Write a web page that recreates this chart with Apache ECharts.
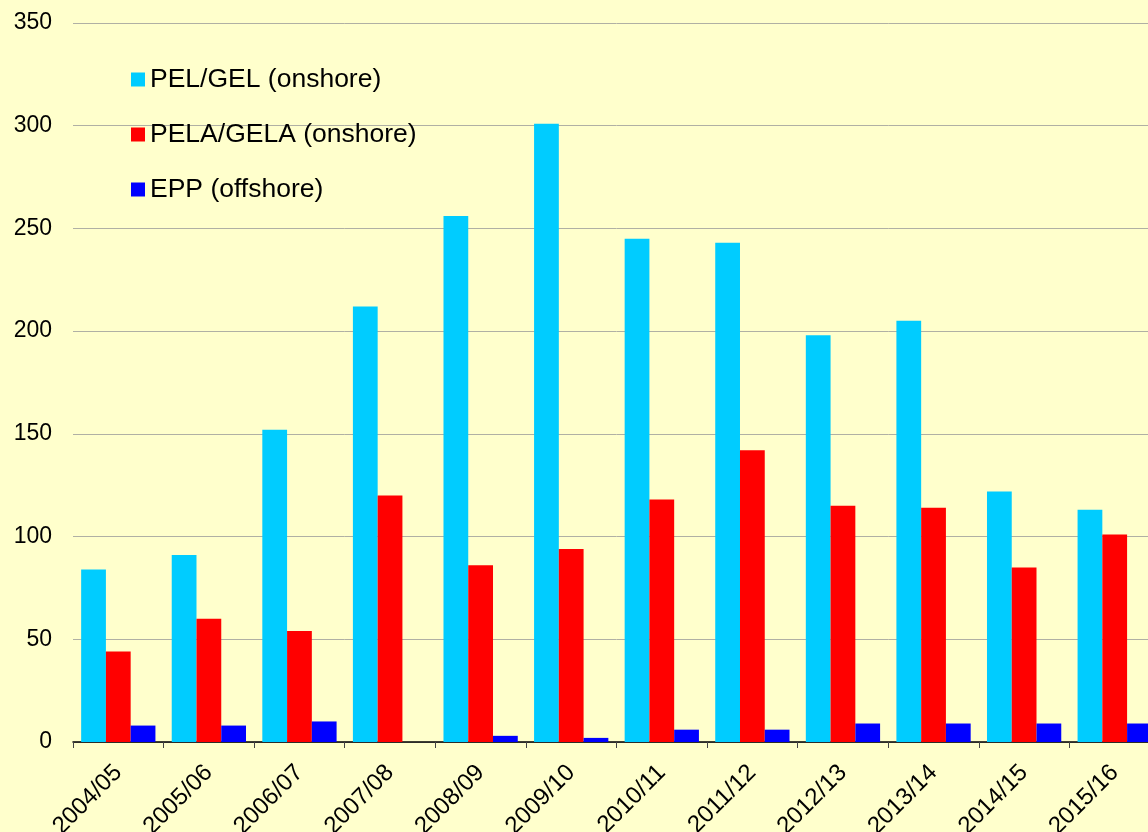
<!DOCTYPE html>
<html>
<head>
<meta charset="utf-8">
<script src="https://cdn.jsdelivr.net/npm/echarts@6/dist/echarts.min.js"></script>
<style>
html,body{margin:0;padding:0;background:#FFFFCC;overflow:hidden;width:1148px;height:832px;}
#wrap{position:relative;width:1148px;height:832px;overflow:hidden;}
#chart{position:absolute;left:0;top:0;width:1160px;height:832px;}
</style>
</head>
<body>
<div id="wrap"><div id="chart"></div></div>
<script>
var categories = ['2004/05','2005/06','2006/07','2007/08','2008/09','2009/10','2010/11','2011/12','2012/13','2013/14','2014/15','2015/16'];
var pelGel = [84, 91, 152, 212, 256, 301, 245, 243, 198, 205, 122, 113];
var pelaGela = [44, 60, 54, 120, 86, 94, 118, 142, 115, 114, 85, 101];
var epp = [8, 8, 10, 0, 3, 2, 6, 6, 9, 9, 9, 9];
var seriesNames = ['PEL/GEL (onshore)', 'PELA/GELA (onshore)', 'EPP (offshore)'];
var yTicks = {min: 0, max: 350, interval: 50};

var font = '"Liberation Sans", Arial, sans-serif';
var chart = echarts.init(document.getElementById('chart'));
chart.setOption({
  backgroundColor: '#FFFFCC',
  animation: false,
  grid: {left: 73, right: 0, top: 23, bottom: 90, containLabel: false, outerBoundsMode: 'none'},
  legend: {
    orient: 'vertical',
    left: 131,
    top: 66,
    padding: 0,
    itemWidth: 14,
    itemHeight: 14,
    itemGap: 28,
    icon: 'rect',
    textStyle: {fontFamily: font, fontSize: 26.5, lineHeight: 26, color: '#000'},
    data: seriesNames
  },
  xAxis: {
    type: 'category',
    data: categories,
    axisLine: {lineStyle: {color: '#000', width: 1.5}},
    axisTick: {show: true, length: 6, lineStyle: {color: '#444'}},
    axisLabel: {rotate: 45, fontFamily: font, fontSize: 24, color: '#000', margin: 27, interval: 0}
  },
  yAxis: {
    type: 'value',
    min: yTicks.min, max: yTicks.max, interval: yTicks.interval,
    axisLine: {show: false},
    axisTick: {show: false},
    splitLine: {lineStyle: {color: '#b0b0a4', width: 1}},
    axisLabel: {fontFamily: font, fontSize: 23, color: '#000', margin: 21}
  },
  series: [
    {name: seriesNames[0], type: 'bar', data: pelGel, barGap: '0%', barCategoryGap: '18%', itemStyle: {color: '#00CCFF'}},
    {name: seriesNames[1], type: 'bar', data: pelaGela, barGap: '0%', barCategoryGap: '18%', itemStyle: {color: '#FF0000'}},
    {name: seriesNames[2], type: 'bar', data: epp, barGap: '0%', barCategoryGap: '18%', itemStyle: {color: '#0000FF'}}
  ]
});
</script>
</body>
</html>
